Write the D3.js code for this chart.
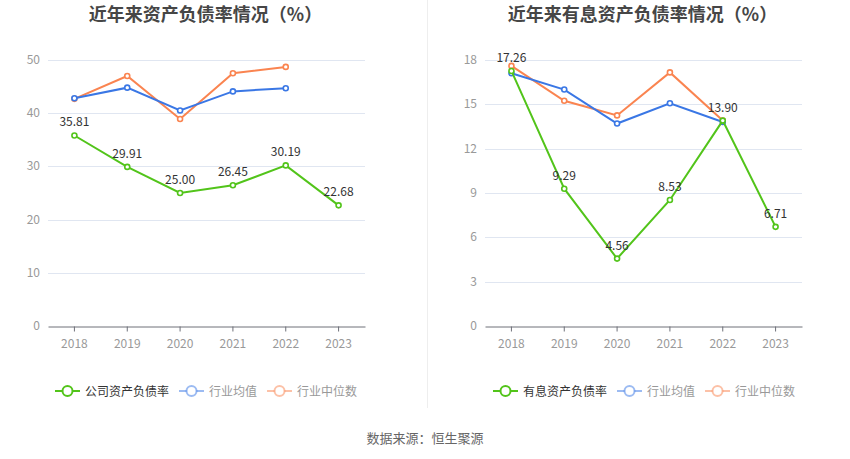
<!DOCTYPE html>
<html><head><meta charset="utf-8">
<script src="https://cdn.jsdelivr.net/npm/d3@7/dist/d3.min.js"></script>
<style>body{margin:0;background:#fff;}svg{display:block;font-family:"Noto Sans CJK SC","Noto Sans",sans-serif;}</style>
</head><body><svg id="c" width="850" height="459"></svg>
<script>
const years = ["2018","2019","2020","2021","2022","2023"];
const leftCompany = [35.81, 29.91, 25.00, 26.45, 30.19, 22.68];
const leftMean = [42.8, 44.8, 40.5, 44.1, 44.7];
const leftMedian = [42.7, 47.0, 38.9, 47.5, 48.7];
const leftTicks = [0, 10, 20, 30, 40, 50];
const rightCompany = [17.26, 9.29, 4.56, 8.53, 13.90, 6.71];
const rightMean = [17.1, 16.0, 13.7, 15.07, 13.8];
const rightMedian = [17.6, 15.24, 14.25, 17.16, 13.9];
const rightTicks = [0, 3, 6, 9, 12, 15, 18];

const GREEN = "#52c41a", BLUE = "#3a77e5", ORANGE = "#fa8450";
const svg = d3.select("#c");

svg.append("line").attr("x1",427.5).attr("x2",427.5).attr("y1",0).attr("y2",408)
  .attr("stroke","#eeeeee").attr("stroke-width",1);

function chart(cfg){
  const g = svg.append("g");
  const x = d3.scaleBand().domain(years).range([cfg.x0, cfg.x1]);
  const y = d3.scaleLinear().domain([0, cfg.max]).range([326, 60]);
  g.append("text").attr("x", cfg.tx).attr("y", 21).attr("text-anchor","middle")
    .attr("font-size",18).attr("font-weight","bold").attr("fill","#464646").text(cfg.title);
  // grid
  g.selectAll(".grid").data(cfg.ticks.filter(t=>t>0)).enter().append("line")
    .attr("x1",cfg.x0).attr("x2",cfg.x1).attr("y1",d=>Math.round(y(d))+0.5).attr("y2",d=>Math.round(y(d))+0.5)
    .attr("stroke","#e0e6f1");
  // y labels
  g.selectAll(".yl").data(cfg.ticks).enter().append("text")
    .attr("x",cfg.x0-8).attr("y",d=>y(d)+4).attr("text-anchor","end")
    .attr("font-size",12).attr("fill","#999").text(d=>d);
  // x axis
  const ax = g.append("g").attr("transform",`translate(0,${Math.round(y(0))+0.5})`)
    .call(d3.axisBottom(x).tickSize(5).tickSizeOuter(0));
  ax.select(".domain").attr("stroke","#6e7079");
  ax.selectAll(".tick line").attr("stroke","#6e7079");
  ax.selectAll(".tick text").attr("fill","#999").attr("font-size",12).attr("dy","1.1em")
    .style("font-family",'"Noto Sans CJK SC","Noto Sans",sans-serif');
  const cx = i => x(years[i]) + x.bandwidth()/2;
  const line = d3.line().x((d,i)=>cx(i)).y(d=>y(d));
  [[cfg.median,ORANGE],[cfg.mean,BLUE],[cfg.company,GREEN]].forEach(([data,col])=>{
    g.append("path").attr("d",line(data)).attr("fill","none").attr("stroke",col).attr("stroke-width",2);
    g.selectAll(null).data(data).enter().append("circle")
      .attr("cx",(d,i)=>cx(i)).attr("cy",d=>y(d)).attr("r",2.5)
      .attr("fill","#fff").attr("stroke",col).attr("stroke-width",1.6);
  });
  g.selectAll(".lab").data(cfg.company).enter().append("text")
    .attr("x",(d,i)=>cx(i)).attr("y",d=>y(d)-9).attr("text-anchor","middle")
    .attr("font-size",12).attr("fill","#333").text(d=>d.toFixed(2));
  // legend
  const items = [[cfg.leg0,GREEN,"#333",1],["行业均值",BLUE,"#999",0.5],["行业中位数",ORANGE,"#999",0.5]];
  let lx = cfg.lx;
  items.forEach(([t,col,tc,op])=>{
    const lg = g.append("g");
    lg.append("line").attr("x1",lx).attr("x2",lx+25).attr("y1",391).attr("y2",391)
      .attr("stroke",col).attr("stroke-width",2).attr("stroke-opacity",op);
    lg.append("circle").attr("cx",lx+12.5).attr("cy",391).attr("r",5)
      .attr("fill","#fff").attr("stroke",col).attr("stroke-width",2).attr("stroke-opacity",op);
    const tt = lg.append("text").attr("x",lx+30).attr("y",395.5).attr("font-size",12).attr("fill",tc).text(t);
    lx += 30 + tt.node().getComputedTextLength() + 10;
  });
}

chart({x0:48, x1:365, max:50, ticks:leftTicks, title:"近年来资产负债率情况（%）", tx:205.5,
  company:leftCompany, mean:leftMean, median:leftMedian, leg0:"公司资产负债率", lx:55});
chart({x0:485, x1:802, max:18, ticks:rightTicks, title:"近年来有息资产负债率情况（%）", tx:642.5,
  company:rightCompany, mean:rightMean, median:rightMedian, leg0:"有息资产负债率", lx:493});

svg.append("text").attr("x",425).attr("y",443).attr("text-anchor","middle")
  .attr("font-size",13).attr("fill","#666").text("数据来源：恒生聚源");
</script></body></html>
